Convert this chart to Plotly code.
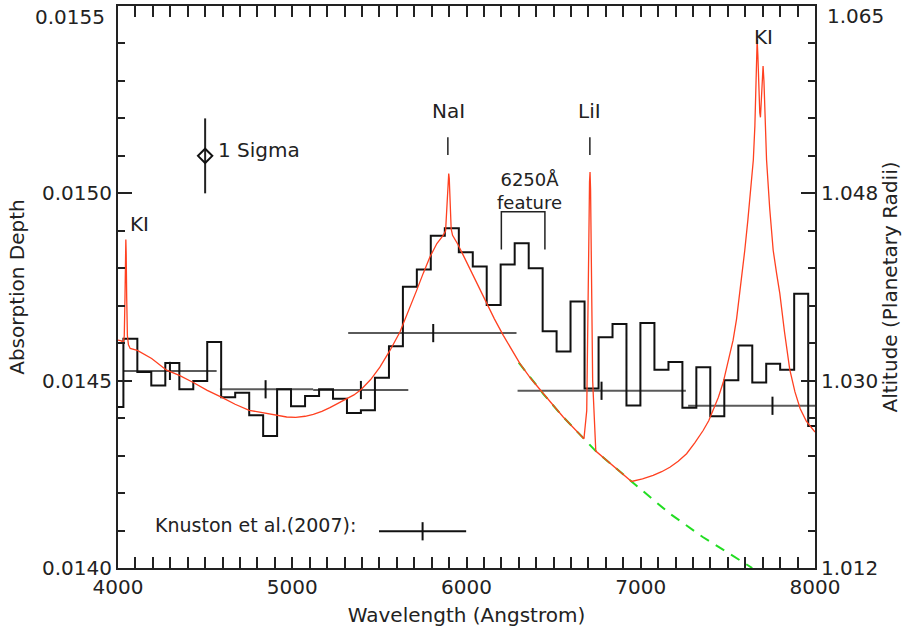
import plotly.graph_objects as go

# ---------------- data ----------------
# binned transit depth (step histogram), bin centres in Angstrom
bin_centers = [3991, 4071, 4151, 4231, 4312, 4392, 4472, 4552, 4632, 4713, 4793,
               4873, 4953, 5033, 5114, 5194, 5274, 5354, 5434, 5515, 5595,
               5675, 5755, 5835, 5916, 5996, 6076, 6156, 6236, 6317, 6397,
               6477, 6557, 6637, 6718, 6798, 6878, 6958, 7038, 7119, 7199,
               7279, 7359, 7439, 7520, 7600, 7680, 7760, 7840, 7921, 8001]
bin_depth = [0.014430, 0.014612, 0.014523, 0.014487, 0.014547, 0.014477, 0.014499,
             0.014603, 0.014456, 0.014468, 0.014408, 0.014352, 0.014477, 0.014432,
             0.014459, 0.014477, 0.014452, 0.014414, 0.014421, 0.014508, 0.014592,
             0.014751, 0.014797, 0.014887, 0.014907, 0.014843, 0.014805, 0.014702,
             0.014810, 0.014867, 0.014800, 0.014632, 0.014578, 0.014711, 0.014479,
             0.014616, 0.014651, 0.014434, 0.014654, 0.014529, 0.014550, 0.014428,
             0.014536, 0.014405, 0.014501, 0.014594, 0.014495, 0.014545, 0.014529,
             0.014732, 0.014379]

# model spectrum (red)
model_wave = [4000, 4020, 4030, 4036, 4040, 4043, 4045, 4047, 4050, 4054, 4060, 4070,
              4111, 4193, 4279, 4352, 4432, 4512, 4593, 4672, 4753, 4833, 4913, 4968,
              5020, 5074, 5121, 5170, 5216, 5265, 5312, 5354, 5394, 5450, 5503, 5560,
              5618, 5666, 5714, 5752, 5790, 5830, 5866, 5880, 5886, 5891, 5895, 5898,
              5901, 5906, 5912, 5920, 5950, 5981, 6020, 6058, 6115, 6160, 6211, 6260,
              6306, 6370, 6440, 6500, 6555, 6620, 6674, 6690, 6697, 6702, 6706, 6709,
              6712, 6717, 6724, 6742, 6800, 6870, 6947, 7010, 7071, 7120, 7167, 7215,
              7263, 7310, 7358, 7390, 7416, 7445, 7473, 7500, 7530, 7550, 7569, 7585,
              7597, 7615, 7630, 7646, 7655, 7661, 7665, 7668, 7672, 7677, 7683, 7687,
              7691, 7696, 7702, 7707, 7713, 7722, 7740, 7760, 7780, 7798, 7825, 7855,
              7885, 7915, 7950, 8000]
model_depth = [0.014608, 0.014606, 0.014598, 0.014620, 0.014720, 0.014840, 0.014877,
               0.014840, 0.014720, 0.014620, 0.014596, 0.014586, 0.014581, 0.014559,
               0.014528, 0.014514, 0.014495, 0.014474, 0.014456, 0.014437, 0.014421,
               0.014414, 0.014407, 0.014403, 0.014402, 0.014405, 0.014410, 0.014418,
               0.014428, 0.014440, 0.014452, 0.014462, 0.014476, 0.014503, 0.014536,
               0.014580, 0.014630, 0.014684, 0.014741, 0.014787, 0.014830, 0.014866,
               0.014888, 0.014900, 0.014950, 0.015020, 0.015050, 0.015053, 0.015040,
               0.014970, 0.014905, 0.014888, 0.014864, 0.014835, 0.014798, 0.014759,
               0.014706, 0.014665, 0.014621, 0.014583, 0.014546, 0.014505, 0.014465,
               0.014433, 0.014403, 0.014372, 0.014345, 0.014420, 0.014620, 0.014870,
               0.015030, 0.015057, 0.015010, 0.014800, 0.014500, 0.014312, 0.014289,
               0.014261, 0.014231, 0.014238, 0.014247, 0.014257, 0.014269, 0.014285,
               0.014305, 0.014334, 0.014367, 0.014393, 0.014421, 0.014455, 0.014495,
               0.014545, 0.014608, 0.014665, 0.014733, 0.014790, 0.014848, 0.014930,
               0.015000, 0.015089, 0.015180, 0.015290, 0.015380, 0.015409, 0.015370,
               0.015290, 0.015215, 0.015203, 0.015240, 0.015315, 0.015340, 0.015300,
               0.015200, 0.015089, 0.014960, 0.014848, 0.014785, 0.014733, 0.014630,
               0.014530, 0.014470, 0.014425, 0.014392, 0.014363]

# continuum-only model (green dashed)
cont_wave = [6300, 6440, 6555, 6674, 6742, 6947, 7167, 7358, 7640]
cont_depth = [0.014548, 0.014465, 0.014403, 0.014345, 0.014312, 0.014231, 0.014145,
              0.014082, 0.014000]

# broad-band points
band_center = [4298, 4847, 5394, 5809, 6775, 7756]
band_depth = [0.014526, 0.014477, 0.014475, 0.014627, 0.014473, 0.014433]
band_minus = [268, 262, 274, 488, 482, 484]
band_plus = [268, 273, 272, 478, 484, 484]

knutson_center = [5748]
knutson_depth = [0.014098]
knutson_half = [250]

sigma_x = [4500]
sigma_y = [0.01510]
sigma_err = [0.00010]

left_ticks = [0.0140, 0.0145, 0.0150, 0.0155]
left_labels = ["0.0140", "0.0145", "0.0150", ""]
right_labels = ["1.012", "1.030", "1.048", ""]
top_left_label = "0.0155"
top_right_label = "1.065"
minor_y = [0.0140 + 0.0001 * i for i in range(16)]

FONT = "DejaVu Sans"
TXT = "#222222"
FS = 20

fig = go.Figure()

fig.add_trace(go.Scatter(x=band_center, y=band_depth, mode="markers",
                         marker=dict(symbol="line-ns", size=13,
                                     line=dict(color="#111111", width=2)),
                         error_x=dict(type="data", symmetric=False, array=band_plus,
                                      arrayminus=band_minus, color="#5a5a5a",
                                      thickness=2, width=0),
                         showlegend=False, cliponaxis=True))
fig.add_trace(go.Scatter(x=bin_centers, y=bin_depth, mode="lines", line_shape="hvh",
                         line=dict(color="#111111", width=2), showlegend=False))
fig.add_trace(go.Scatter(x=cont_wave, y=cont_depth, mode="lines",
                         line=dict(color="#22dd22", width=2, dash="10px,8px"),
                         showlegend=False))
fig.add_trace(go.Scatter(x=model_wave, y=model_depth, mode="lines",
                         line=dict(color="#ff4020", width=1.3), showlegend=False))
fig.add_trace(go.Scatter(x=knutson_center, y=knutson_depth, mode="markers",
                         marker=dict(symbol="line-ns", size=13,
                                     line=dict(color="#111111", width=2)),
                         error_x=dict(type="data", array=knutson_half, color="#111111",
                                      thickness=2, width=0),
                         showlegend=False))
fig.add_trace(go.Scatter(x=sigma_x, y=sigma_y, mode="markers",
                         marker=dict(symbol="diamond-open", size=11, color="#111111",
                                     line=dict(color="#111111", width=2)),
                         error_y=dict(type="data", array=sigma_err, color="#222222",
                                      thickness=2, width=0),
                         showlegend=False))
# line marks above NaI / LiI and the 6250 bracket
fig.add_trace(go.Scatter(x=[5893, 5893, None, 6708, 6708, None, 6200, 6200, 6450, 6450],
                         y=[0.015102, 0.015150, None, 0.015102, 0.015150, None,
                            0.014850, 0.014951, 0.014951, 0.014850],
                         mode="lines", line=dict(color="#222222", width=1.5),
                         showlegend=False))
# invisible trace for the right-hand axis
fig.add_trace(go.Scatter(x=[4000], y=[0.0145], yaxis="y2", mode="markers",
                         marker=dict(opacity=0), showlegend=False, hoverinfo="skip"))

ann = [
    ("KI", 4126, 0.014918),
    ("NaI", 5895, 0.015220),
    ("LiI", 6708, 0.015220),
    ("KI", 7706, 0.015417),
]
for t, x, y in ann:
    fig.add_annotation(x=x, y=y, text=t, showarrow=False, xanchor="center",
                       yanchor="middle", font=dict(family=FONT, size=FS, color=TXT))
fig.add_annotation(x=6362, y=0.015006, text="6250Å<br>feature", showarrow=False,
                   xanchor="center", yanchor="middle", align="center",
                   font=dict(family=FONT, size=18, color=TXT))
fig.add_annotation(x=4562, y=0.015115, text="1 Sigma", showarrow=False, xanchor="left",
                   yanchor="middle", font=dict(family=FONT, size=FS, color=TXT))
fig.add_annotation(x=4201, y=0.014114, text="Knuston et al.(2007):", showarrow=False,
                   xanchor="left", yanchor="middle",
                   font=dict(family=FONT, size=19, color=TXT))
# top tick labels sit just below the frame corner, as in the reference
fig.add_annotation(xref="paper", yref="paper", x=-0.016, y=0.980,
                   text=top_left_label, showarrow=False, xanchor="right",
                   yanchor="middle", font=dict(family=FONT, size=FS, color=TXT))
fig.add_annotation(xref="paper", yref="paper", x=1.014, y=0.983,
                   text=top_right_label, showarrow=False, xanchor="left",
                   yanchor="middle", font=dict(family=FONT, size=FS, color=TXT))

axis_common = dict(showline=True, linecolor="#222222", linewidth=2, showgrid=False,
                   zeroline=False, ticks="inside", tickcolor="#222222", tickwidth=1.5,
                   automargin=False,
                   tickfont=dict(family=FONT, size=FS, color=TXT))

YR = [0.0140, 0.01550001]

fig.update_layout(
    width=905, height=635,
    margin=dict(l=118, r=90, t=6, b=67),
    paper_bgcolor="white", plot_bgcolor="white",
    xaxis=dict(range=[4000, 8000], tickvals=[4000, 5000, 6000, 7000, 8000],
               ticktext=["4000", "5000", "6000", "7000", "8000"],
               ticklen=11, mirror="allticks",
               minor=dict(dtick=100, tick0=4000, ticks="inside", ticklen=5,
                          tickcolor="#222222", tickwidth=1.5, showgrid=False),
               title=dict(text="Wavelength (Angstrom)", standoff=10,
                          font=dict(family=FONT, size=FS, color=TXT)),
               **axis_common),
    yaxis=dict(range=YR, tickvals=left_ticks, ticktext=left_labels,
               ticklen=14,
               minor=dict(tickvals=minor_y, ticks="inside", ticklen=7,
                          tickcolor="#222222", tickwidth=1.5, showgrid=False),
               title=dict(text="Absorption Depth", standoff=12,
                          font=dict(family=FONT, size=FS, color=TXT)),
               **axis_common),
    yaxis2=dict(range=YR, overlaying="y", side="right",
                tickvals=left_ticks, ticktext=right_labels, ticklen=14,
                minor=dict(tickvals=minor_y, ticks="inside", ticklen=7,
                           tickcolor="#222222", tickwidth=1.5, showgrid=False),
                title=dict(text="Altitude (Planetary Radii)", standoff=4,
                           font=dict(family=FONT, size=FS, color=TXT)),
                **axis_common),
)

fig.write_html("out.html", config={"displayModeBar": False},
               post_script="document.body.style.margin='0';document.body.style.overflow='hidden';")
